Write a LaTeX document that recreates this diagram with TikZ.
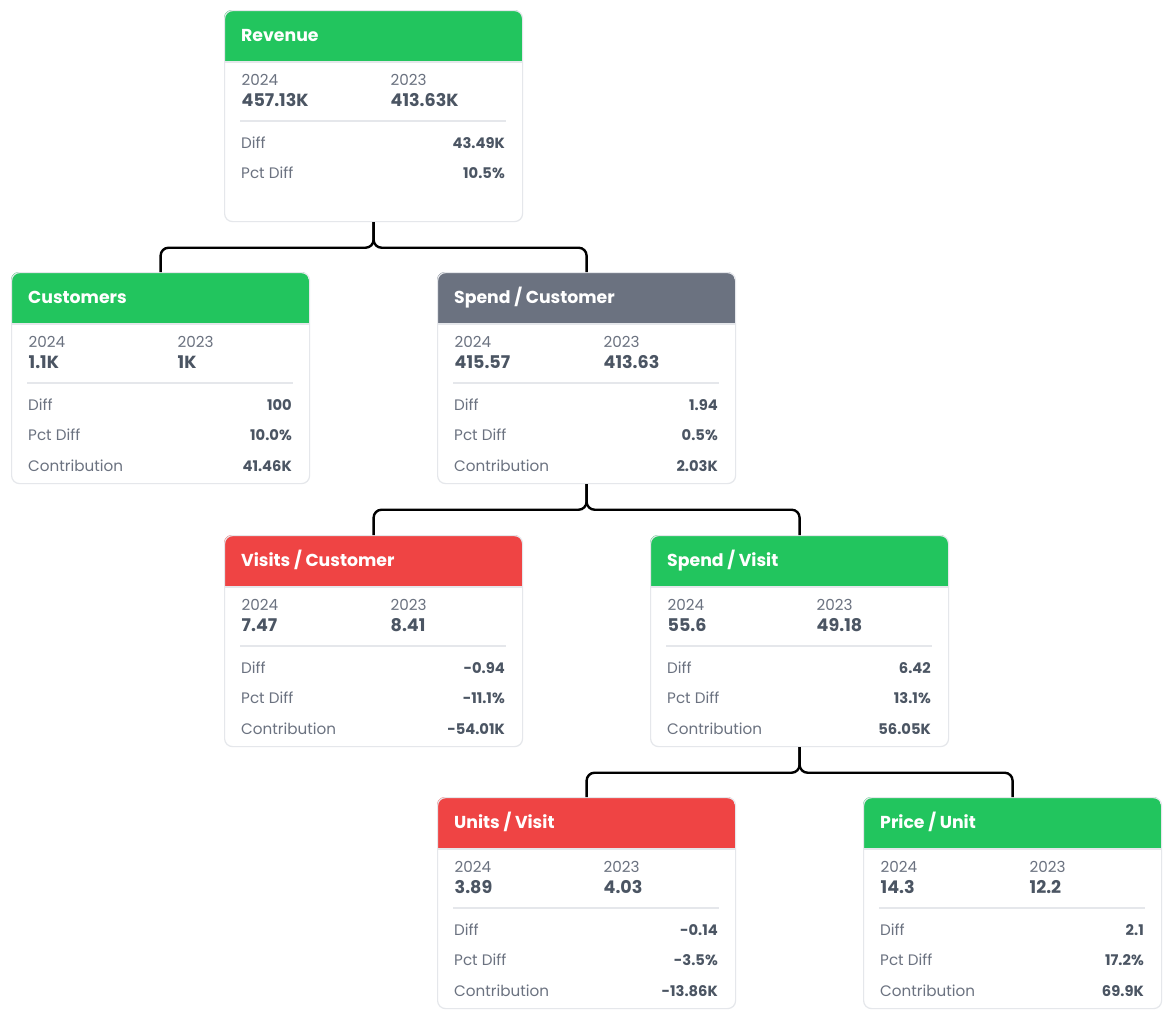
\documentclass[tikz,border=0pt]{standalone}
\usepackage{fontspec}
\setmainfont{Poppins}
\definecolor{cgreen}{HTML}{22C55E}
\definecolor{cred}{HTML}{EF4444}
\definecolor{cgray}{HTML}{6B7280}
\definecolor{cborder}{HTML}{E5E7EB}
\definecolor{clabel}{HTML}{6B7280}
\definecolor{cvalue}{HTML}{4B5563}
\tikzset{
  cardframe/.style={draw=cborder, line width=1.2pt, rounded corners=8pt, inner sep=0pt,
    minimum width=298pt, minimum height=211pt, anchor=north west},
  titletext/.style={anchor=base west, inner sep=0pt, text=white, font=\fontsize{17.3}{20}\selectfont\bfseries},
  yeartext/.style={anchor=base west, inner sep=0pt, text=clabel, font=\fontsize{15.2}{18}\selectfont},
  bigval/.style={anchor=base west, inner sep=0pt, text=cvalue, font=\fontsize{17.5}{20}\selectfont\bfseries},
  rowlabel/.style={anchor=base west, inner sep=0pt, text=clabel, font=\fontsize{15.2}{18}\selectfont},
  rowval/.style={anchor=base east, inner sep=0pt, text=cvalue, font=\fontsize{14.7}{18}\selectfont\bfseries},
  conn/.style={draw=black, line width=2.4pt, rounded corners=8pt}
}
\newcommand\kpicard[9]{%
  \begin{scope}[shift={(#2)}]
    \begin{scope}
      \clip[rounded corners=8pt] (0,0) rectangle (298,211);
      \fill[#3] (0,0) rectangle (298,51);
      \fill[cborder] (0,51) rectangle (298,52.5);
    \end{scope}
    \node[cardframe] (#1) at (0,0) {};
    \node[titletext] (#1-title) at (17,31) {#4};
    \node[yeartext] (#1-y24) at (17.5,75) {2024};
    \node[yeartext] (#1-y23) at (166.5,75) {2023};
    \node[bigval] (#1-v24) at (17.5,96) {#5};
    \node[bigval] (#1-v23) at (166.5,96) {#6};
    \draw[cborder, line width=1.5pt] (16,111) -- (282,111);
    \node[rowlabel] (#1-dl) at (17,138) {Diff};
    \node[rowval] (#1-dv) at (281,138) {#7};
    \node[rowlabel] (#1-pl) at (17,168.5) {Pct Diff};
    \node[rowval] (#1-pv) at (281,168.5) {#8};
    \if\relax\detokenize{#9}\relax\else
      \node[rowlabel] (#1-cl) at (17,199) {Contribution};
      \node[rowval] (#1-cv) at (281,199) {#9};
    \fi
  \end{scope}}
\begin{document}
\begin{tikzpicture}[x=1pt, y=-1pt]
  \useasboundingbox[fill=white] (0,0) rectangle (1172,1021);
  \kpicard{rev}{224,10}{cgreen}{Revenue}{457.13K}{413.63K}{43.49K}{10.5\%}{}
  \kpicard{cust}{11,272}{cgreen}{Customers}{1.1K}{1K}{100}{10.0\%}{41.46K}
  \kpicard{spc}{437,272}{cgray}{Spend / Customer}{415.57}{413.63}{1.94}{0.5\%}{2.03K}
  \kpicard{vpc}{224,535}{cred}{Visits / Customer}{7.47}{8.41}{-0.94}{-11.1\%}{-54.01K}
  \kpicard{spv}{650,535}{cgreen}{Spend / Visit}{55.6}{49.18}{6.42}{13.1\%}{56.05K}
  \kpicard{upv}{437,797}{cred}{Units / Visit}{3.89}{4.03}{-0.14}{-3.5\%}{-13.86K}
  \kpicard{ppu}{863,797}{cgreen}{Price / Unit}{14.3}{12.2}{2.1}{17.2\%}{69.9K}
  \draw[conn] (rev.south) -- ++(0,25.5) -| (cust.north);
  \draw[conn] (rev.south) -- ++(0,25.5) -| (spc.north);
  \draw[conn] (spc.south) -- ++(0,25.5) -| (vpc.north);
  \draw[conn] (spc.south) -- ++(0,25.5) -| (spv.north);
  \draw[conn] (spv.south) -- ++(0,25.5) -| (upv.north);
  \draw[conn] (spv.south) -- ++(0,25.5) -| (ppu.north);
\end{tikzpicture}
\end{document}
